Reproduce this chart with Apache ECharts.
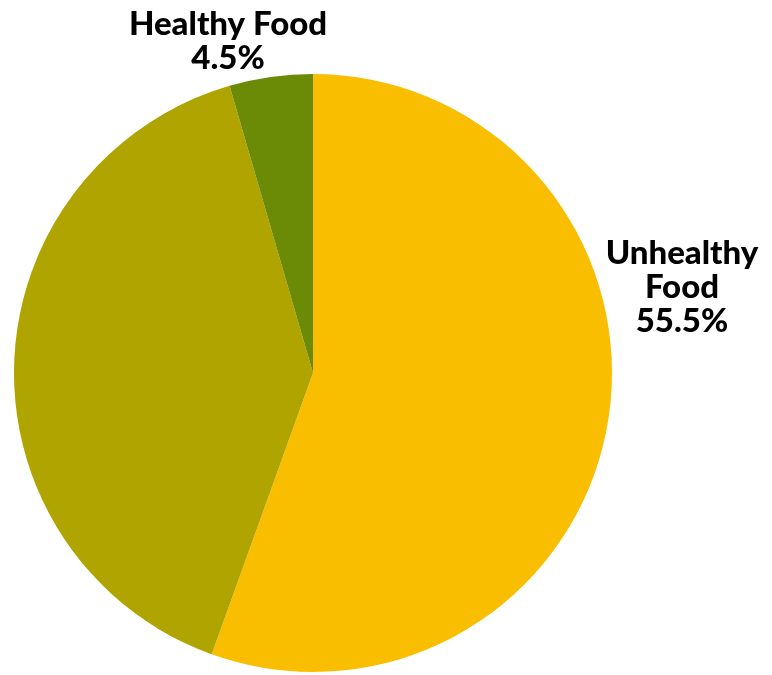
<!DOCTYPE html>
<html>
<head>
<meta charset="utf-8">
<script src="https://cdn.jsdelivr.net/npm/echarts@6/dist/echarts.min.js"></script>
<style>html,body{margin:0;padding:0;background:#fff;}#c{width:772px;height:675px;}</style>
</head>
<body>
<div id="c"></div>
<script>
const categories = ['Unhealthy Food', 'Other', 'Healthy Food'];
const labelTexts = ['Unhealthy\nFood', '', 'Healthy Food'];
const values = [55.5, 40.0, 4.5];
const colors = ['#F9BE00', '#B0A500', '#6B8A06'];
const showLabel = [true, false, true];

const chart = echarts.init(document.getElementById('c'));
const labelPos = [
  {x: 682, y: 287},
  {x: 0, y: 0},
  {x: 228, y: 41}
];
chart.setOption({
  animation: false,
  series: [{
    type: 'pie',
    center: [313, 373],
    radius: 299,
    startAngle: 90,
    clockwise: true,
    label: {
      position: 'outside',
      fontFamily: 'Lato',
      fontWeight: 900,
      fontSize: 33,
      lineHeight: 34,
      color: '#000',
      align: 'center',
      overflow: 'none',
      width: 300
    },
    labelLine: {show: false},
    labelLayout: function (p) {
      const pos = labelPos[p.dataIndex];
      return {x: pos.x, y: pos.y, align: 'center', verticalAlign: 'middle'};
    },
    emphasis: {disabled: true},
    data: categories.map((c, i) => ({
      name: c,
      value: values[i],
      itemStyle: {color: colors[i]},
      label: {
        show: showLabel[i],
        formatter: labelTexts[i] + '\n' + values[i].toFixed(1) + '%'
      }
    }))
  }]
});
</script>
</body>
</html>
